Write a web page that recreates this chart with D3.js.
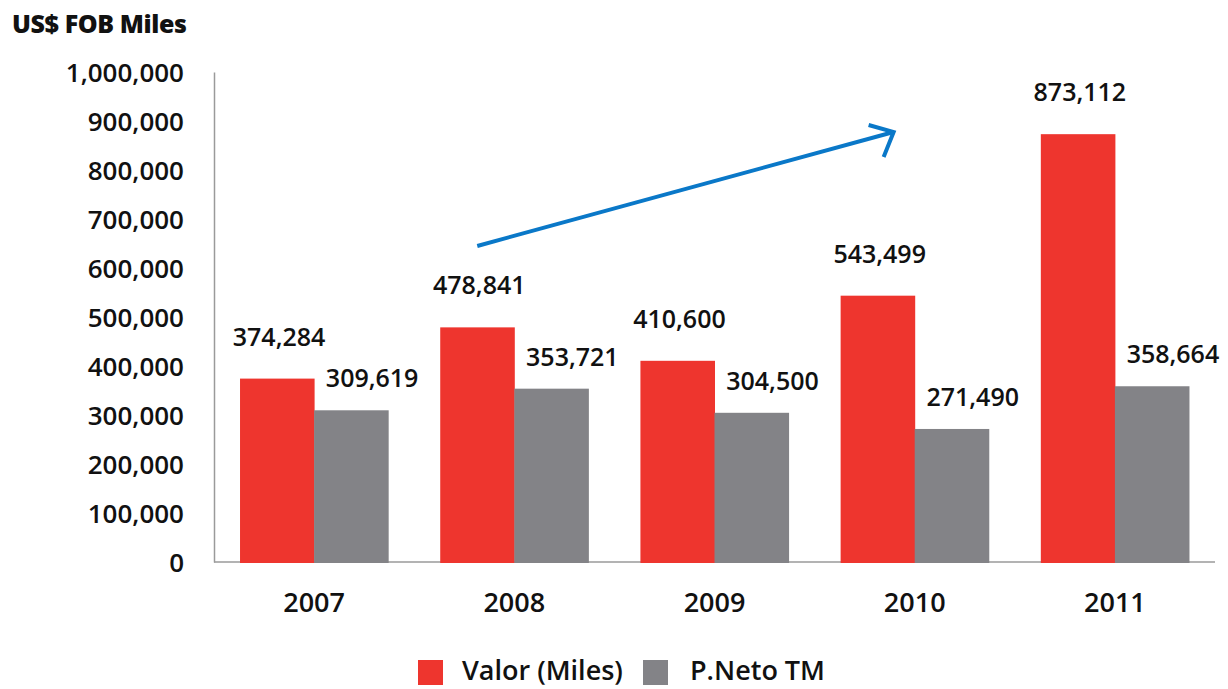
<!DOCTYPE html>
<html>
<head>
<meta charset="utf-8">
<script src="https://cdn.jsdelivr.net/npm/d3@7"></script>
<style>
  body { margin: 0; background: #fff; }
  #chart { width: 1228px; height: 689px; }
  text { font-family: "Open Sans", "Noto Sans", sans-serif; fill: #111; }
</style>
</head>
<body>
<div id="chart"></div>
<script>
// Data
const years = ["2007", "2008", "2009", "2010", "2011"];
const seriesNames = ["Valor (Miles)", "P.Neto TM"];
const valor = [374284, 478841, 410600, 543499, 873112];
const pneto = [309619, 353721, 304500, 271490, 358664];
const yTicks = [0, 100000, 200000, 300000, 400000, 500000, 600000, 700000, 800000, 900000, 1000000];
const colors = ["#ee352e", "#838387"];

const width = 1228, height = 689;
const margin = { top: 72, right: 13, bottom: 127, left: 214 };

const svg = d3.select("#chart").append("svg")
    .attr("width", width)
    .attr("height", height);

// Scales
const x0 = d3.scaleBand()
    .domain(years)
    .range([margin.left, width - margin.right])
    .paddingInner(0.26)
    .paddingOuter(0.13);

const x1 = d3.scaleBand()
    .domain(seriesNames)
    .range([0, x0.bandwidth()]);

const y = d3.scaleLinear()
    .domain([0, 1000000])
    .range([height - margin.bottom, margin.top]);

// Title
svg.append("text")
    .attr("x", 12)
    .attr("y", 33)
    .style("font-size", "25px")
    .style("font-weight", "800")
    .style("letter-spacing", "-0.4px")
    .text("US$ FOB Miles");

// Y axis
const yAxis = svg.append("g")
    .attr("transform", `translate(${margin.left},0)`)
    .call(d3.axisLeft(y).tickValues(yTicks).tickSize(0).tickPadding(30).tickFormat(d3.format(",")));
yAxis.select(".domain").attr("stroke", "#9a9a9a").attr("stroke-width", 1.5);
yAxis.selectAll("text")
    .attr("dy", "0.36em")
    .style("font-size", "26px")
    .style("font-weight", "600")
    .style("font-family", "'Open Sans', sans-serif")
    .attr("fill", "#111");

// X axis
const xAxis = svg.append("g")
    .attr("transform", `translate(0,${y(0)})`)
    .call(d3.axisBottom(x0).tickSize(0));
xAxis.select(".domain").attr("stroke", "#9a9a9a").attr("stroke-width", 1.5)
    .attr("d", `M${margin.left},0H${width - margin.right}`);
xAxis.selectAll("text")
    .attr("y", 40)
    .attr("dy", "0.36em")
    .style("font-size", "27px")
    .style("font-weight", "600")
    .style("font-family", "'Open Sans', sans-serif")
    .attr("fill", "#111");

// Build rows
const rows = years.map((yr, i) => ({ year: yr, values: [valor[i], pneto[i]] }));

const groups = svg.append("g")
    .selectAll("g")
    .data(rows)
    .join("g")
    .attr("transform", d => `translate(${x0(d.year)},0)`);

groups.selectAll("rect")
    .data(d => d.values.map((v, k) => ({ key: seriesNames[k], value: v, k })))
    .join("rect")
    .attr("x", d => x1(d.key))
    .attr("y", d => y(d.value))
    .attr("width", x1.bandwidth() + 0.5)
    .attr("height", d => y(0) - y(d.value) + 1)
    .attr("fill", d => colors[d.k]);

// Value labels
const labelShift = [{ dx: 2, dy: -42 }, { dx: 21, dy: -32 }];
groups.selectAll("text.val")
    .data(d => d.values.map((v, k) => ({ key: seriesNames[k], value: v, k })))
    .join("text")
    .attr("class", "val")
    .attr("x", d => x1(d.key) + x1.bandwidth() / 2 + labelShift[d.k].dx)
    .attr("y", d => y(d.value) + labelShift[d.k].dy)
    .attr("dy", "0.36em")
    .attr("text-anchor", "middle")
    .style("font-size", "25px")
    .style("font-weight", "600")
    .text(d => d3.format(",")(d.value));

// Trend arrow
const ax0 = x0("2008") + x1.bandwidth() / 2, ay0 = y(645000);
const ax1 = x0("2010") + 53, ay1 = y(877500);
svg.append("path")
    .attr("d", `M${ax0},${ay0}L${ax1},${ay1}`)
    .attr("stroke", "#0a78c8")
    .attr("stroke-width", 4)
    .attr("fill", "none");
svg.append("path")
    .attr("d", `M${ax1 - 25},${ay1 - 7}L${ax1},${ay1}L${ax1 - 10},${ay1 + 25}`)
    .attr("stroke", "#0a78c8")
    .attr("stroke-width", 4)
    .attr("fill", "none");

// Legend
const legend = svg.append("g");
const legendX = [418, 643];
const legendTextX = [462, 690];
seriesNames.forEach((name, i) => {
    legend.append("rect")
        .attr("x", legendX[i])
        .attr("y", 660)
        .attr("width", 25)
        .attr("height", 25)
        .attr("fill", colors[i]);
    legend.append("text")
        .attr("x", legendTextX[i])
        .attr("y", 680)
        .style("font-size", "27px")
        .style("font-weight", "600")
        .text(name);
});
</script>
</body>
</html>
